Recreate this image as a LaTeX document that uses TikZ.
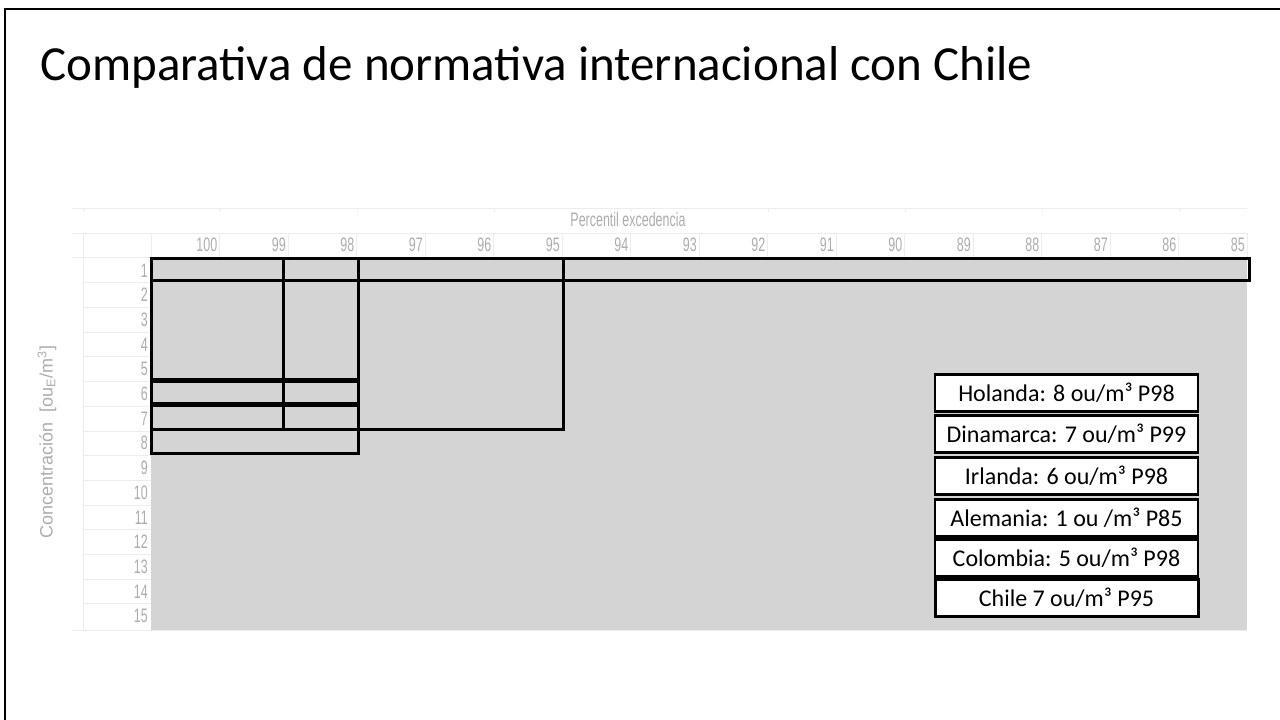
\documentclass[tikz,border=0pt]{standalone}
\usepackage{fontspec}
\setmainfont{Carlito}
\newfontfamily\sheetfont[FakeStretch=0.64]{Liberation Sans}
\newfontfamily\axisfont{Liberation Sans}
\definecolor{cellgray}{HTML}{D4D4D4}
\definecolor{labgray}{HTML}{ADADAD}
\definecolor{gridgray}{HTML}{EDEDED}
\tikzset{
  sheetlab/.style={text=labgray, font=\sheetfont\fontsize{19.5}{20}\selectfont, inner sep=0pt},
  faint/.style={draw=gridgray, line width=0.8pt},
  blackbox/.style={draw=black, line width=3pt},
  legendbox/.style={draw=black, line width=2.2pt, fill=white, minimum width=263pt, minimum height=37pt, inner sep=0pt, font=\fontsize{24}{26}\selectfont},
}
\begin{document}
\begin{tikzpicture}[x=1pt,y=-1pt]
\useasboundingbox (0,0) rectangle (1280,720);
\fill[white] (0,0) rectangle (1280,720);
% slide frame
\draw[line width=2.5pt] (5,720) -- (5,9) -- (1280,9);
% title
\node[anchor=base west, inner sep=0pt, font=\fontsize{49}{56}\selectfont] (title) at (40,80) {Comparativa de normativa internacional con Chile};
% sheet area
\fill[cellgray] (151,257) rectangle (1247,630);
% faint grid
\draw[faint] (72,208) -- (1247,208);
\draw[faint] (72,233) -- (1247,233);
\draw[faint] (72,257) -- (151,257);
\draw[faint] (151,257) -- (1247,257);
\draw[faint] (72,630) -- (1247,630);
\draw[faint] (83,233) -- (83,630);
\draw[faint] (151,233) -- (151,257);
\foreach \i in {1,...,16} \draw[faint] ({151+\i*68.5},233) -- ({151+\i*68.5},257);
\foreach \r in {1,...,14} \draw[faint] (83,{258+\r*24.7}) -- (151,{258+\r*24.7});
\foreach \x in {83,219,357,494,631,768,905,1042,1179} \draw[faint] (\x,208) -- (\x,212);
% header labels
\node[sheetlab] (perc) at (628,220) {Percentil excedencia};
\foreach \v [count=\i from 1] in {100,99,...,85}
  \node[sheetlab, anchor=east] (c\v) at ({151+\i*68.5-2},245) {\v};
\foreach \r in {1,...,15}
  \node[sheetlab, anchor=east] (r\r) at (148,{258+(\r-0.5)*24.7}) {\r};
% axis label
\node[rotate=90, text=labgray, inner sep=0pt, font=\axisfont\fontsize{18}{20}\selectfont] (ylab) at (47,442) {Concentración\ \ [ou\textsubscript{E}/m\textsuperscript{3}]};
% black rectangles
\draw[blackbox] (151,258) rectangle (1249,280);
\draw[blackbox] (151,258) rectangle (563,429);
\draw[blackbox] (151,258) rectangle (358,453);
\draw[blackbox] (151,258) rectangle (283,429);
\draw[blackbox] (151,258) rectangle (358,379);
\draw[blackbox] (151,381) rectangle (358,403);
\draw[blackbox] (151,405) rectangle (358,429);
% legend
\node[legendbox] (hol) at (1066.5,393) {Holanda: 8 ou/m³ P98};
\node[legendbox] (din) at (1066.5,434) {Dinamarca: 7 ou/m³ P99};
\node[legendbox] (irl) at (1066.5,476) {Irlanda: 6 ou/m³ P98};
\node[legendbox] (ale) at (1066.5,518) {Alemania: 1 ou /m³ P85};
\node[legendbox] (col) at (1066.5,558) {Colombia: 5 ou/m³ P98};
\node[legendbox, line width=3pt] (chi) at (1066.5,598) {Chile 7 ou/m³ P95};
\end{tikzpicture}
\end{document}
